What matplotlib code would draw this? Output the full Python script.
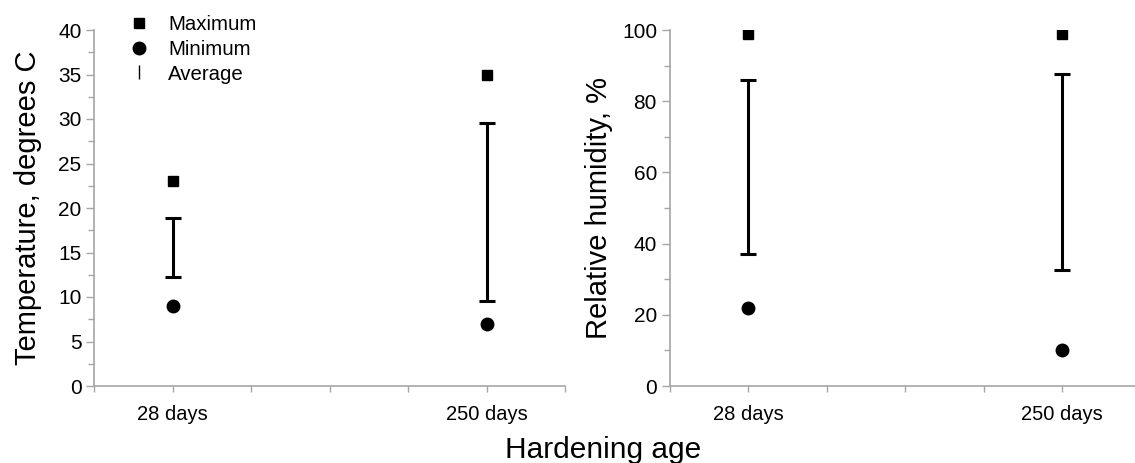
import numpy as np
import matplotlib
matplotlib.use("Agg")
import matplotlib.pyplot as plt
from matplotlib.lines import Line2D

plt.rcParams['font.family'] = ['Liberation Sans', 'DejaVu Sans']

# data
ages = ['28 days', '250 days']
age_pos = [1, 5]

temp_max = [23, 35]
temp_min = [9, 7]
temp_avg_low = [12.3, 9.6]
temp_avg_high = [18.9, 29.5]

rh_max = [98.8, 98.8]
rh_min = [22, 10]
rh_avg_low = [37.1, 32.5]
rh_avg_high = [86.0, 87.7]

axis_grey = '#a6a6a6'

fig = plt.figure(figsize=(11.35, 4.63), dpi=100)
ax1 = fig.add_axes([94 / 1135, 77 / 463, 471 / 1135, 356 / 463])
ax2 = fig.add_axes([669.5 / 1135, 77 / 463, 465.5 / 1135, 356 / 463])


def draw_panel(ax, vmax, vmin, low, high):
    x = np.array(age_pos)
    low = np.array(low)
    high = np.array(high)
    ax.errorbar(x, low, yerr=[np.zeros_like(low), high - low], fmt='none',
                ecolor='black', elinewidth=2.2, capsize=5.5, capthick=2.2)
    ax.plot(x, vmax, 's', color='black', markersize=7.8, linestyle='none')
    ax.plot(x, vmin, 'o', color='black', markersize=9, linestyle='none')

    for side in ['top', 'right']:
        ax.spines[side].set_visible(False)
    for side in ['left', 'bottom']:
        ax.spines[side].set_color(axis_grey)
        ax.spines[side].set_linewidth(1.2)

    ax.set_xticks(range(0, 7))
    ax.set_xticklabels(['' if i not in age_pos else ages[age_pos.index(i)] for i in range(0, 7)],
                       fontsize=14.5)
    ax.tick_params(axis='x', which='major', length=4, width=1, color=axis_grey, pad=10)
    ax.tick_params(axis='y', which='major', length=6, width=1, color=axis_grey,
                   labelsize=15, pad=3)
    ax.tick_params(axis='y', which='minor', length=4, width=1, color=axis_grey)


draw_panel(ax1, temp_max, temp_min, temp_avg_low, temp_avg_high)
ax1.set_xlim(0, 6)
ax1.set_ylim(0, 40)
ax1.set_yticks(np.arange(0, 41, 5))
ax1.set_yticks(np.arange(2.5, 40, 5), minor=True)
ax1.set_ylabel('Temperature, degrees C', fontsize=21)
ax1.yaxis.set_label_coords(-0.111, 0.5)

draw_panel(ax2, rh_max, rh_min, rh_avg_low, rh_avg_high)
ax2.set_xlim(0, 465.5 / 78.5)
ax2.set_ylim(0, 100)
ax2.set_yticks(np.arange(0, 101, 20))
ax2.set_yticks(np.arange(10, 100, 20), minor=True)
ax2.set_ylabel('Relative humidity, %', fontsize=21)
ax2.yaxis.set_label_coords(-0.121, 0.5)

fig.text(603 / 1135, 5 / 463, 'Hardening age', fontsize=21.5, ha='center', va='baseline')

handles = [
    Line2D([], [], marker='s', color='black', linestyle='none', markersize=7.8),
    Line2D([], [], marker='o', color='black', linestyle='none', markersize=9),
    Line2D([], [], marker='|', color='black', linestyle='none', markersize=10, markeredgewidth=1),
]
fig.legend(handles, ['Maximum', 'Minimum', 'Average'], loc='upper left',
           bbox_to_anchor=(119 / 1135, 1 - 5 / 463), frameon=False, fontsize=14.7,
           handlelength=1.0, handletextpad=0.9, labelspacing=0.28, borderpad=0)

fig.savefig('out.png', dpi=100)
